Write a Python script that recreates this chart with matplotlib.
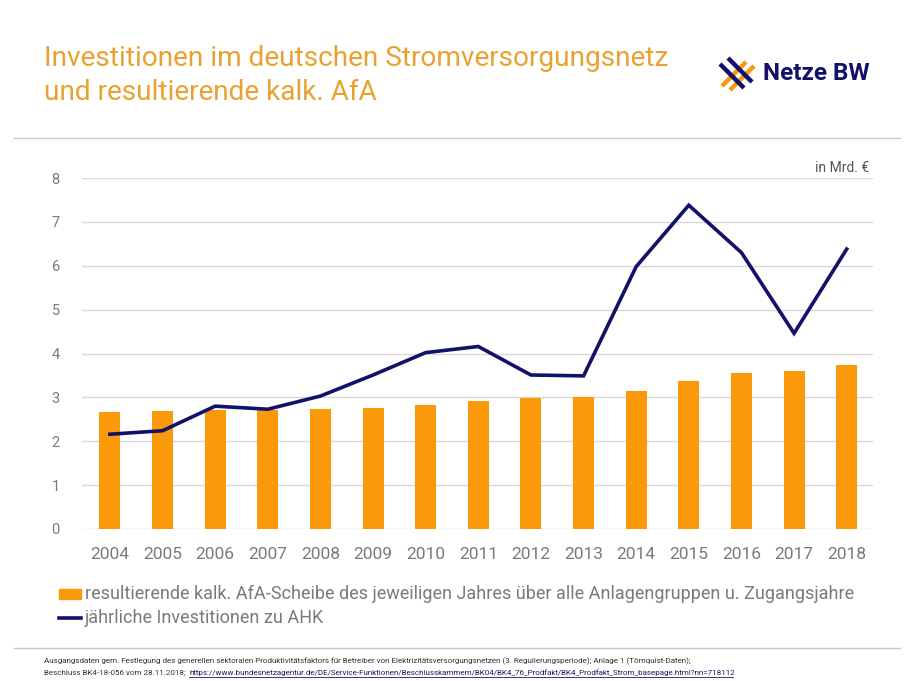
import matplotlib.pyplot as plt
from matplotlib.lines import Line2D
from matplotlib.patches import Rectangle

years = ["2004", "2005", "2006", "2007", "2008", "2009", "2010", "2011",
         "2012", "2013", "2014", "2015", "2016", "2017", "2018"]
afa = [2.67, 2.69, 2.71, 2.72, 2.74, 2.76, 2.83, 2.92,
       2.99, 3.01, 3.14, 3.37, 3.55, 3.60, 3.74]
invest = [2.16, 2.24, 2.80, 2.73, 3.03, 3.51, 4.02, 4.16,
          3.51, 3.49, 5.98, 7.38, 6.30, 4.46, 6.38]
yticks = [0, 1, 2, 3, 4, 5, 6, 7, 8]

orange = "#FA9A0A"
title_col = "#E9A230"
navy = "#12126B"
grey = "#7A7A7A"

plt.rcParams["font.family"] = ["Roboto", "DejaVu Sans"]

fig = plt.figure(figsize=(9.14, 6.81), dpi=100)
W, H = 914, 681

def fx(px):
    return px / W

def fy(py):
    return 1 - py / H

# title
fig.text(fx(44), fy(58), "Investitionen im deutschen Stromversorgungsnetz",
         color=title_col, fontsize=20.2, va="center", ha="left")
fig.text(fx(44), fy(92), "und resultierende kalk. AfA",
         color=title_col, fontsize=20.2, va="center", ha="left")

# logo
for (x0, y0, x1, y1, c) in [
    (722, 86, 746, 62, orange), (730, 90, 754, 66, orange),
    (720, 64, 744, 88, navy), (728, 58, 752, 82, navy),
]:
    fig.add_artist(Line2D([fx(x0), fx(x1)], [fy(y0), fy(y1)], color=c,
                          lw=3.2, solid_capstyle="butt"))
fig.text(fx(763), fy(74), "Netze BW", color=navy, fontsize=17.5,
         fontweight="bold", va="center", ha="left")

# separators
fig.add_artist(Line2D([fx(14), fx(900)], [fy(138), fy(138)], color="#C8C8C8", lw=1))
fig.add_artist(Line2D([fx(14), fx(900)], [fy(648), fy(648)], color="#C8C8C8", lw=1))

ax = fig.add_axes([fx(82), fy(529), fx(873) - fx(82), fy(178) - fy(529)])
x = list(range(len(years)))
ax.bar(x, afa, width=0.4, color=orange, zorder=2)
ax.plot(x, invest, color=navy, lw=2.6, zorder=3, solid_joinstyle="miter")
ax.set_ylim(0, 8)
ax.set_xlim(-0.53, 14.5)
ax.set_yticks(yticks)
ax.set_yticklabels([str(v) for v in yticks], color=grey, fontsize=10.5)
ax.set_xticks(x)
ax.set_xticklabels(years, color=grey, fontsize=12.5)
ax.tick_params(axis="both", length=0)
ax.tick_params(axis="y", pad=16)
ax.tick_params(axis="x", pad=13)
ax.grid(axis="y", color="#D9D9D9", lw=1, zorder=0)
for s in ax.spines.values():
    s.set_visible(False)
fig.text(fx(869), fy(168), "in Mrd. €", fontsize=10, color="#555555",
         ha="right", va="center")

# legend
fig.add_artist(Rectangle((fx(59), fy(599)), fx(22), fy(589) - fy(599),
                         color=orange))
fig.text(fx(85), fy(594), "resultierende kalk. AfA-Scheibe des jeweiligen Jahres über alle Anlagengruppen u. Zugangsjahre",
         color=grey, fontsize=13, va="center", ha="left")
fig.add_artist(Line2D([fx(59), fx(81)], [fy(618), fy(618)], color=navy, lw=2.6))
fig.text(fx(85), fy(618), "jährliche Investitionen zu AHK",
         color=grey, fontsize=13, va="center", ha="left")

# footer
fig.text(fx(44), fy(661),
         "Ausgangsdaten gem. Festlegung des generellen sektoralen Produktivitätsfaktors für Betreiber von Elektrizitätsversorgungsnetzen (3. Regulierungsperiode); Anlage 1 (Törnquist-Daten);",
         fontsize=5.75, color="#333333", va="center", ha="left")
fig.text(fx(44), fy(673), "Beschluss BK4-18-056 vom 28.11.2018;",
         fontsize=5.75, color="#333333", va="center", ha="left")
fig.text(fx(189), fy(673),
         "https://www.bundesnetzagentur.de/DE/Service-Funktionen/Beschlusskammern/BK04/BK4_76_Prodfakt/BK4_Prodfakt_Strom_basepage.html?nn=718112",
         fontsize=5.75, color="#1A1A5E", va="center", ha="left")
fig.add_artist(Line2D([fx(189), fx(733)], [fy(677), fy(677)], color="#1A1A5E", lw=0.6))

fig.savefig("out.png", dpi=100)
